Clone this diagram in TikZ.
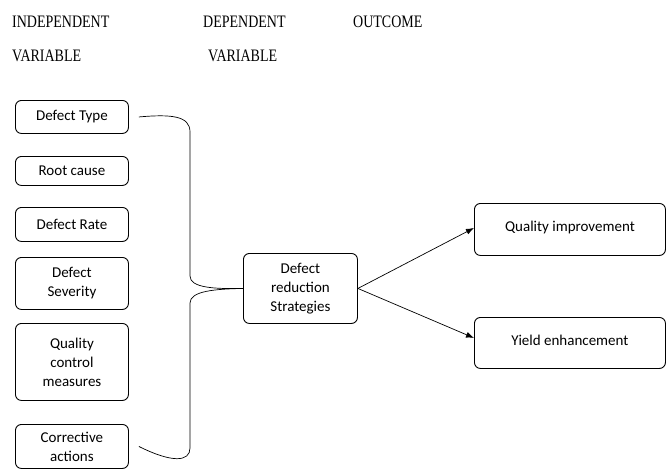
\documentclass[tikz,border=0pt]{standalone}
\usepackage{fontspec}
\setmainfont{Liberation Serif}
\newfontfamily\boxfont{Carlito}
\usetikzlibrary{arrows.meta}
\tikzset{
  vbox/.style={draw, rounded corners=6pt, line width=0.9pt, inner sep=0pt, align=center,
    font=\boxfont\fontsize{15}{19}\selectfont, anchor=north west},
  head/.style={anchor=base west, inner sep=0pt, font=\fontsize{17.5}{19}\selectfont},
  conn/.style={line width=0.7pt},
  arr/.style={line width=0.7pt, -{Latex[length=8pt,width=6pt]}}
}
\newcommand{\hs}[1]{\scalebox{0.8}[1]{#1}}
\begin{document}
\begin{tikzpicture}[x=1pt,y=-1pt]
\useasboundingbox (0,0) rectangle (671,474);
% headers
\node[head] (h1) at (12,27) {\hs{INDEPENDENT}};
\node[head] (h2) at (12,61) {\hs{VARIABLE}};
\node[head] (h3) at (203,27) {\hs{DEPENDENT}};
\node[head] (h4) at (208,61) {\hs{VARIABLE}};
\node[head] (h5) at (353,27) {\hs{OUTCOME}};
% left boxes
\node[vbox, minimum width=113pt, minimum height=33pt] (dt) at (15,100) {Defect Type};
\node[vbox, minimum width=113pt, minimum height=29pt] (rc) at (15,156) {Root cause};
\node[vbox, minimum width=113pt, minimum height=34pt] (rate) at (15,207) {Defect Rate};
\node[vbox, minimum width=113pt, minimum height=52pt] (sev) at (15,257) {Defect\\Severity};
\node[vbox, minimum width=113pt, minimum height=77pt] (qc) at (15,323) {Quality\\control\\measures};
\node[vbox, minimum width=113pt, minimum height=44pt] (ca) at (15,424) {Corrective\\actions};
% center
\node[vbox, minimum width=114pt, minimum height=70pt] (dr) at (243,253) {Defect\\reduction\\Strategies};
% right
\node[vbox, minimum width=191pt, minimum height=52pt] (qi) at (474,203) {\raisebox{6pt}{Quality improvement}};
\node[vbox, minimum width=191pt, minimum height=51pt] (ye) at (474,317) {\raisebox{6pt}{Yield enhancement}};
% bracket connectors
\draw[conn] ([xshift=10pt]dt.east) .. controls (172,114) and (190,116) .. (190,132)
  -- (190,276) .. controls (190,288) and (215,289) .. (dr.west);
\draw[conn] (dr.west) .. controls (215,289) and (190,291) .. (190,303)
  -- (190,448) .. controls (190,462) and (172,463) .. ([xshift=10pt]ca.east);
% arrows
\draw[arr] (dr.east) -- ([yshift=1.5pt]qi.west);
\draw[arr] (dr.east) -- ([yshift=5pt]ye.west);
\end{tikzpicture}
\end{document}
